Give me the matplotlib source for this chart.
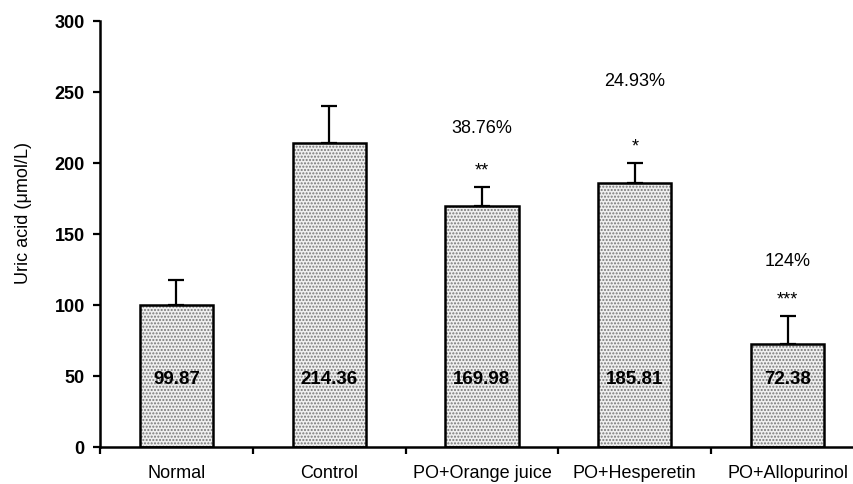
import numpy as np
import matplotlib.pyplot as plt
plt.rcParams['font.family'] = ['Liberation Sans', 'DejaVu Sans']

groups = ['Normal', 'Control', 'PO+Orange juice', 'PO+Hesperetin', 'PO+Allopurinol']
means = [99.87, 214.36, 169.98, 185.81, 72.38]
errs = [18, 26, 13, 14, 20]
stars = ['', '', '**', '*', '***']
star_y = [0, 0, 195, 212, 104]
pcts = ['', '', '38.76%', '24.93%', '124%']
pct_y = [0, 0, 225, 258, 131]

fig = plt.figure(figsize=(8.54, 4.85), dpi=100)
ax = fig.add_axes([0.1171, 0.0763, 0.8946, 0.8784])

x = np.arange(len(groups))
ax.bar(x, means, width=0.48, color='#efefef', edgecolor='#777777', hatch='.....', linewidth=0, zorder=2)
ax.bar(x, means, width=0.48, fill=False, edgecolor='black', linewidth=1.8, zorder=3)
ax.errorbar(x, means, yerr=[[0] * len(errs), errs], fmt='none', ecolor='black',
            elinewidth=1.6, capsize=6, capthick=1.6, zorder=1)

for i in range(len(groups)):
    ax.text(x[i], 48, f'{means[i]:.2f}', ha='center', va='center',
            fontsize=13.5, fontweight='bold', zorder=4)
    if stars[i]:
        ax.text(x[i], star_y[i], stars[i], ha='center', va='center', fontsize=13)
        ax.text(x[i], pct_y[i], pcts[i], ha='center', va='center', fontsize=13)

ax.set_xlim(-0.5, 4.5)
ax.set_ylim(0, 300)
ax.set_yticks([0, 50, 100, 150, 200, 250, 300])
ax.set_xticks(x)
ax.set_xticklabels(groups, fontsize=13)
ax.set_xticks(np.arange(-0.5, 5, 1), minor=True)
ax.tick_params(axis='x', which='major', length=0, pad=12)
ax.tick_params(axis='x', which='minor', length=5, width=1.6, direction='out')
ax.tick_params(axis='y', length=5, width=1.6, direction='out', labelsize=13, pad=6)
for lab in ax.get_yticklabels():
    lab.set_fontweight('bold')
ax.set_ylabel('Uric acid (μmol/L)', fontsize=13)
ax.yaxis.set_label_coords(-0.089, 0.552)

for s in ['top', 'right']:
    ax.spines[s].set_visible(False)
for s in ['left', 'bottom']:
    ax.spines[s].set_linewidth(1.8)

fig.savefig('out.png', dpi=100)
